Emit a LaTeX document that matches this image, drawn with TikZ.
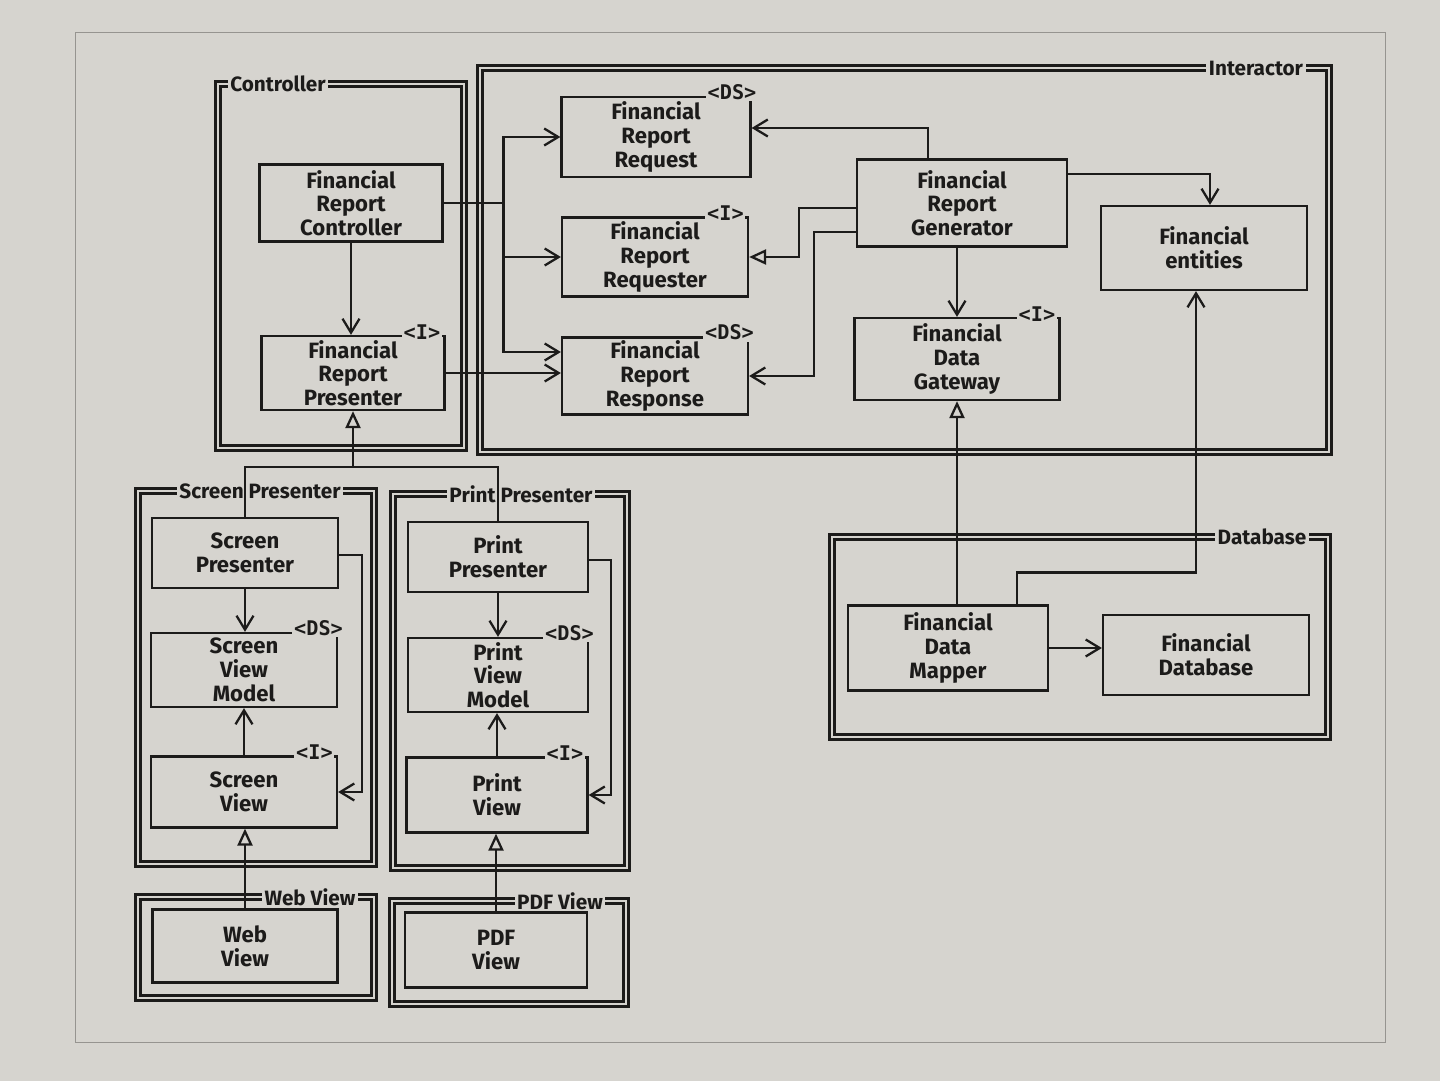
\documentclass[tikz,border=0pt]{standalone}
\usepackage{fontspec}
\setmainfont{Fira Sans}[BoldFont={Fira Sans Bold}]
\setmonofont{DejaVu Sans Mono}[BoldFont={DejaVu Sans Mono Bold}]
\usepackage[dvipsnames]{xcolor}
\usetikzlibrary{positioning, calc, arrows.meta}
\definecolor{paper}{RGB}{214,212,207}
\definecolor{ink}{RGB}{28,27,26}
\definecolor{pageline}{RGB}{150,148,144}

\begin{document}
\begin{tikzpicture}[x=0.02cm, y=-0.02cm,
  cls/.style={draw=ink, line width=1.3pt, align=center, text=ink, inner sep=1pt,
    font=\fontsize{12.6}{13.5}\selectfont\bfseries, minimum width=3.72cm, minimum height=1.56cm},
  pkg/.style={draw=ink, double=paper, double distance=1.5pt, line width=1.35pt},
  pkgname/.style={fill=paper, text=ink, inner sep=1.5pt, font=\fontsize{11.8}{12}\selectfont\bfseries},
  stereo/.style={fill=paper, text=ink, inner sep=1pt, anchor=west, font=\fontsize{11.5}{12}\selectfont\ttfamily\bfseries},
  wire/.style={draw=ink, line width=1.3pt},
  uses/.style={wire, -{Straight Barb[length=2.8mm, width=3.4mm]}},
  realizes/.style={wire, -{Triangle[open, length=3.4mm, width=3mm]}}]

  \fill[paper] (0,0) rectangle (1440,1081);
  \useasboundingbox (0,0) rectangle (1440,1081);
  \draw[pageline, line width=0.5pt] (75,32) rectangle (1385,1042);

  \draw[pkg] (218,84) rectangle (464,448);
  \draw[pkg] (480,68) rectangle (1329,452);
  \draw[pkg] (832,537) rectangle (1328,737);
  \draw[pkg] (138,491) rectangle (374,864);
  \draw[pkg] (393,494) rectangle (627,868);
  \draw[pkg] (138,897) rectangle (374,998);
  \draw[pkg] (392,901) rectangle (626,1004);

  \node[pkgname] (ctrlpkg) at (278,84) {Controller};
  \node[pkgname] (intpkg) at (1256,68) {Interactor};
  \node[pkgname] (dbpkg) at (1262,537) {Database};
  \node[pkgname] (scrpkg) at (260,491) {Screen Presenter};
  \node[pkgname] (prnpkg) at (521,494) {Print Presenter};
  \node[pkgname] (webpkg) at (310,897) {Web View};
  \node[pkgname] (pdfpkg) at (560,901) {PDF View};

  \node[cls, minimum width=3.66cm, minimum height=1.54cm] (ctrl) at (351,203) {Financial\\Report\\Controller};
  \node[cls, minimum width=3.66cm, minimum height=1.48cm] (pres) at (353,373) {Financial\\Report\\Presenter};
  \node[cls, minimum width=3.78cm, minimum height=1.6cm] (req) at (656,137) {Financial\\Report\\Request};
  \node[cls, minimum height=1.58cm] (rqr) at (655,257) {Financial\\Report\\Requester};
  \node[cls, minimum height=1.54cm] (resp) at (655,376) {Financial\\Report\\Response};
  \node[cls, minimum width=4.2cm, minimum height=1.74cm] (gen) at (962,203) {Financial\\Report\\Generator};
  \node[cls, minimum width=4.12cm, minimum height=1.68cm] (ent) at (1204,248) {Financial\\entities};
  \node[cls, minimum width=4.1cm, minimum height=1.64cm] (gate) at (957,359) {Financial\\Data\\Gateway};
  \node[cls, minimum width=4cm, minimum height=1.7cm] (mapper) at (948,648) {Financial\\Data\\Mapper};
  \node[cls, minimum width=4.12cm, minimum height=1.6cm] (fdb) at (1206,655) {Financial\\Database};

  \node[cls, minimum height=1.4cm] (sp) at (245,553) {Screen\\Presenter};
  \node[cls, minimum height=1.48cm] (svm) at (244,670) {Screen\\View\\Model};
  \node[cls, minimum height=1.42cm] (sv) at (244,792) {Screen\\View};
  \node[cls, minimum width=3.6cm, minimum height=1.4cm] (pp) at (498,557) {Print\\Presenter};
  \node[cls, minimum width=3.6cm, minimum height=1.48cm] (pvm) at (498,675) {Print\\View\\Model};
  \node[cls, minimum width=3.62cm, minimum height=1.5cm] (pv) at (497,795) {Print\\View};
  \node[cls, minimum width=3.7cm, minimum height=1.46cm] (wv) at (245,946) {Web\\View};
  \node[cls, minimum width=3.64cm, minimum height=1.5cm] (pdfv) at (496,950) {PDF\\View};

  \node[stereo] (prestag) at ($(pres.north east)+(-44,-3)$) {<I>};
  \node[stereo] (reqtag) at ($(req.north east)+(-46,-4)$) {<DS>};
  \node[stereo] (rqrtag) at ($(rqr.north east)+(-44,-3)$) {<I>};
  \node[stereo] (resptag) at ($(resp.north east)+(-46,-4)$) {<DS>};
  \node[stereo] (gatetag) at ($(gate.north east)+(-44,-3)$) {<I>};
  \node[stereo] (svmtag) at ($(svm.north east)+(-46,-4)$) {<DS>};
  \node[stereo] (svtag) at ($(sv.north east)+(-44,-3)$) {<I>};
  \node[stereo] (pvmtag) at ($(pvm.north east)+(-46,-4)$) {<DS>};
  \node[stereo] (pvtag) at ($(pv.north east)+(-44,-3)$) {<I>};

  \draw[uses] (ctrl.south) -- (ctrl.south |- pres.north);
  \draw[uses] (ctrl.east) -- ++(60,0) coordinate (split) |- (req.west);
  \draw[uses] (split) |- (rqr.west);
  \draw[uses] (split) |- ($(resp.west)+(0,-24)$);
  \draw[uses] (pres.east) -- (pres.east -| resp.west);

  \draw[uses] ($(gen.north)+(-34,0)$) |- ($(req.east)+(0,-9)$);
  \draw[realizes] ($(gen.west)+(0,5)$) -- ++(-57,0) |- (rqr.east);
  \draw[uses] ($(gen.west)+(0,29)$) -- ++(-42,0) |- (resp.east);
  \draw[uses] ($(gen.east)+(0,-29)$) -| ($(ent.north)+(6,0)$);
  \draw[uses] (gate.north |- gen.south) -- (gate.north);

  \draw[realizes] (gate.south |- mapper.north) -- (gate.south);
  \draw[uses] ($(mapper.north)+(69,0)$) -- ++(0,-32) -| ($(ent.south)+(-8,0)$);
  \draw[uses] (mapper.east) -- (mapper.east -| fdb.west);

  \draw[wire] (sp.north) -- ++(0,-50) coordinate (merge) -| (pp.north);
  \draw[realizes] (merge -| pres.south) -- (pres.south);

  \draw[uses] (sp.south) -- (sp.south |- svm.north);
  \draw[uses] ($(sp.east)+(0,2)$) -- ++(23,0) |- (sv.east);
  \draw[uses] (sv.north) -- (sv.north |- svm.south);
  \draw[realizes] (wv.north) -- (wv.north |- sv.south);

  \draw[uses] (pp.south) -- (pp.south |- pvm.north);
  \draw[uses] ($(pp.east)+(0,3)$) -- ++(22,0) |- (pv.east);
  \draw[uses] (pv.north) -- (pv.north |- pvm.south);
  \draw[realizes] (pdfv.north) -- (pdfv.north |- pv.south);
\end{tikzpicture}
\end{document}
